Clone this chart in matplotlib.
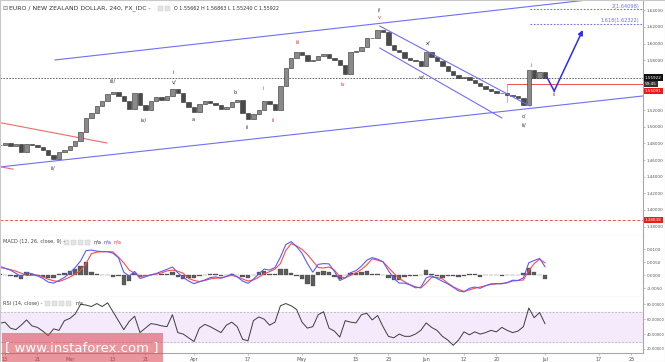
import matplotlib
matplotlib.use("Agg")
import matplotlib.pyplot as plt
import numpy as np
from matplotlib.patches import Rectangle

# ---------------- data (trading-day index, 0 = 13 Feb) ----------------
days = list(range(-1, 101))
closes = [
    1.4781, 1.4805, 1.4769, 1.4793, 1.4697, 1.4793, 1.4781, 1.4757, 1.4721, 1.4661,
    1.4613, 1.4697, 1.4721, 1.4769, 1.4829, 1.4937, 1.5106, 1.5166, 1.5250, 1.5310,
    1.5394, 1.5418, 1.5370, 1.5310, 1.5214, 1.5406, 1.5262, 1.5202, 1.5310, 1.5358,
    1.5322, 1.5370, 1.5454, 1.5406, 1.5298, 1.5238, 1.5178, 1.5274, 1.5310, 1.5286,
    1.5262, 1.5214, 1.5238, 1.5298, 1.5322, 1.5166, 1.5094, 1.5154, 1.5202, 1.5310,
    1.5274, 1.5202, 1.5490, 1.5707, 1.5827, 1.5899, 1.5863, 1.5791, 1.5803, 1.5851,
    1.5875, 1.5827, 1.5803, 1.5743, 1.5635, 1.5899, 1.5911, 1.5959, 1.6067, 1.6067,
    1.6163, 1.6139, 1.5983, 1.5923, 1.5899, 1.5827, 1.5803, 1.5791, 1.5731, 1.5899,
    1.5839, 1.5791, 1.5731, 1.5671, 1.5623, 1.5587, 1.5599, 1.5563, 1.5526, 1.5490,
    1.5454, 1.5430, 1.5406, 1.5406, 1.5382, 1.5370, 1.5346, 1.5262, 1.5683, 1.5587,
    1.5659, 1.5592,
]
macd = [
    .0035, .0027, .0020, .0008, -.0005, .0010, .0006, -.0002, -.0012, -.0026,
    -.0030, -.0020, -.0008, .0008, .0030, .0055, .0095, .0097, .0093, .0091,
    .0091, .0085, .0068, .0012, -.0003, .0015, -.0012, -.0006, .0002, .0007,
    .0015, .0023, .0032, .0010, -.0008, -.0022, -.0032, -.0025, -.0018, -.0009,
    -.0006, -.0011, -.0004, .0005, -.0006, -.0022, -.0031, -.0015, .0005, .0024,
    .0020, .0030, .0070, .0118, .0130, .0110, .0085, .0045, .0012, .0042,
    .0045, .0044, .0015, -.0020, -.0010, .0010, .0018, .0035, .0058, .0068,
    .0062, .0052, .0018, -.0012, -.0030, -.0030, -.0037, -.0048, -.0046, -.0010,
    -.0002, -.0012, -.0023, -.0033, -.0046, -.0060, -.0064, -.0050, -.0045, -.0050,
    -.0040, -.0033, -.0032, -.0033, -.0028, -.0019, -.0020, -.0010, .0048, .0057,
    .0065, .0033,
]
signal = [
    .0030, .0027, .0022, .0016, .0008, -.0001, .0000, .0001, -.0006, -.0015,
    -.0021, -.0024, -.0016, -.0007, .0005, .0018, .0045, .0083, .0089, .0091,
    .0091, .0090, .0070, .0048, .0020, .0008, -.0004, -.0002, .0001, .0005,
    .0009, .0017, .0020, .0016, .0008, -.0012, -.0020, -.0024, -.0020, -.0014,
    -.0011, -.0010, -.0005, .0000, -.0006, -.0014, -.0022, -.0018, -.0007, .0006,
    .0014, .0024, .0045, .0095, .0122, .0113, .0100, .0080, .0055, .0030,
    .0028, .0032, .0020, -.0005, -.0010, .0000, .0010, .0022, .0040, .0063,
    .0058, .0052, .0030, .0008, -.0012, -.0025, -.0036, -.0044, -.0049, -.0030,
    -.0008, -.0008, -.0014, -.0030, -.0044, -.0054, -.0062, -.0056, -.0050, -.0045,
    -.0040, -.0035, -.0033, -.0031, -.0029, -.0022, -.0020, -.0018, .0018, .0045,
    .0062, .0048,
]
rsi = [
    54.5, 56, 48, 46, 52, 59, 51, 49, 44, 38,
    47, 45, 58, 61, 67, 80, 79, 77, 81, 77,
    82, 70, 58, 46, 57, 64, 42, 48, 54, 53,
    51, 50, 66, 42, 40, 35, 30, 48, 53, 50,
    46, 42, 52, 56, 50, 33, 31, 58, 63, 60,
    52, 56, 78, 81, 78, 73, 56, 48, 50, 66,
    70, 48, 44, 36, 58, 56, 55, 66, 68, 59,
    65, 50, 37, 35, 40, 37, 37, 40, 45, 55,
    49, 45, 37, 32, 25, 32, 43, 39, 43, 40,
    42, 45, 43, 49, 45, 42, 44, 50, 75, 62,
    69, 54,
]
tick_days = [0, 6, 12, 20, 26, 35, 45, 55, 65, 71, 78, 85, 91, 100, 110, 116]
tick_labels = ["13", "21", "Mar", "13", "21", "Apr", "17", "May", "15", "23",
               "Jun", "12", "20", "Jul", "17", "25"]
price_ticks = [1.38, 1.40, 1.42, 1.44, 1.46, 1.48, 1.50, 1.52, 1.58, 1.60, 1.62, 1.64]
macd_ticks = [0.01, 0.005, 0.0, -0.005]
rsi_ticks = [80, 60, 40, 20]

# channel / drawing anchors (day, price)
chan_upper = ([9.26, 118.2], [1.5803, 1.6600])
chan_lower = ([-0.93, 118.2], [1.4517, 1.5371])
red_old = ([-0.93, 18.9], [1.5050, 1.4805])
red_short = ([-0.93, 1.5], [1.4520, 1.4490])
desc_upper = ([69.4, 97.2], [1.6211, 1.5250])
desc_lower = ([69.4, 92.0], [1.5947, 1.5106])
proj_path = ([100.4, 101.7], [1.5592, 1.5430])
proj_arrow = ([101.7, 107.0], [1.5430, 1.6163])
fib_levels = [1.64098, 1.62322]
fib_names = ["2(1.64098)", "1.618(1.62322)"]
fib_start = 97.2
last_price = 1.55922
red_level = 1.55091
red_level_start = 93.0
support_level = 1.38838

wave_black = [("iii/", 20.0, 1.5550), ("iv/", 25.7, 1.5082), ("i", 31.1, 1.5647),
              ("v/", 31.3, 1.5538), ("a", 34.8, 1.5082), ("b", 42.6, 1.5418),
              ("ii", 44.8, 1.4986), ("ii/", 8.9, 1.4505), ("i/", 69.3, 1.6404),
              ("w/", 77.2, 1.5599), ("x/", 78.3, 1.6007), ("c/", 96.1, 1.5130),
              ("ii/", 96.1, 1.5022)]
wave_red = [("i", 47.8, 1.5466), ("ii", 49.6, 1.5070), ("iii", 54.3, 1.6019),
            ("iv", 62.6, 1.5514), ("v", 69.3, 1.6308), ("i", 97.4, 1.5731),
            ("ii", 101.7, 1.5394)]

# ---------------- figure ----------------
W, H = 665, 362
fig = plt.figure(figsize=(W / 100, H / 100), dpi=100)
plt.rcParams['font.family'] = ['DejaVu Sans']

def fx(px):
    return px / W

def fy(py):
    return 1 - py / H

right = 643
ax_p = fig.add_axes([0, fy(236), fx(right), 236 / H])
ax_m = fig.add_axes([0, fy(297), fx(right), 61 / H])
ax_r = fig.add_axes([0, fy(353), fx(right), 56 / H])

xlim = (-0.926, 118.15)
GRAY = "#a8a8a8"
TXT = "#555555"
for ax in (ax_p, ax_m, ax_r):
    ax.set_xlim(*xlim)
    ax.set_facecolor("white")
    for s in ("top", "left"):
        ax.spines[s].set_visible(False)
    for s in ("right", "bottom"):
        ax.spines[s].set_color(GRAY)
        ax.spines[s].set_linewidth(0.8)
    ax.yaxis.tick_right()
    ax.tick_params(axis="y", length=1.5, width=0.5, color=GRAY, labelsize=3.0,
                   labelcolor=TXT, pad=1.0)
    ax.tick_params(axis="x", length=0, labelbottom=False)

# ---- price panel ----
d = np.array(days, dtype=float)
c = np.array(closes)
o = np.concatenate([[c[0]], c[:-1]])
up = c >= o
ax_p.bar(d[up], (c - o)[up], bottom=o[up], width=0.8, color="#8a8a8a",
         edgecolor="#2e2e2e", linewidth=0.4, zorder=3)
ax_p.bar(d[~up], (c - o)[~up], bottom=o[~up], width=0.8, color="#4a4a4a",
         edgecolor="#2e2e2e", linewidth=0.4, zorder=3)
ax_p.set_ylim(1.3687, 1.6524)
ax_p.set_yticks(price_ticks)
ax_p.set_yticklabels([f"{v:.5f}" for v in price_ticks])

BLUE = "#6f6ff5"
ax_p.plot(*chan_upper, color=BLUE, lw=0.8, zorder=2)
ax_p.plot(*chan_lower, color=BLUE, lw=0.8, zorder=2)
ax_p.plot(*desc_upper, color=BLUE, lw=0.8, zorder=4)
ax_p.plot(*desc_lower, color=BLUE, lw=0.8, zorder=4)
ax_p.plot(*red_old, color="#f26a6a", lw=0.8, zorder=2)
ax_p.plot(*red_short, color="#f26a6a", lw=0.8, zorder=2)
ax_p.axhline(last_price, color="#555555", lw=0.6, ls=(0, (2, 1.5)), zorder=2)
ax_p.plot([red_level_start, xlim[1]], [red_level, red_level], color="#f05050", lw=0.7, zorder=2)
ax_p.plot([red_level_start, red_level_start], [red_level, 1.5300], color="#f08080", lw=0.5, zorder=2)
ax_p.axhline(support_level, color="#f05050", lw=0.7, ls=(0, (3, 2)), zorder=2)
for lvl, name in zip(fib_levels, fib_names):
    ax_p.plot([fib_start, xlim[1]], [lvl, lvl], color=BLUE, lw=0.8, ls=(0, (1.5, 1.5)), zorder=2)
    ax_p.text(117.5, lvl + 0.0012, name, color=BLUE, fontsize=3.6, ha="right", va="bottom")
ax_p.plot(*proj_path, color="#2b2bff", lw=1.1, zorder=5)
ax_p.annotate("", xy=(proj_arrow[0][1], proj_arrow[1][1]),
              xytext=(proj_arrow[0][0], proj_arrow[1][0]),
              arrowprops=dict(arrowstyle="-|>", color="#2b2bff", lw=1.1,
                              mutation_scale=7, shrinkA=0, shrinkB=0), zorder=5)
for t, x, y in wave_black:
    ax_p.text(x, y, t, fontsize=3.6, color="#333333", ha="center", va="center", zorder=6)
for t, x, y in wave_red:
    ax_p.text(x, y, t, fontsize=3.6, color="#e03030", ha="center", va="center", zorder=6)

# price labels on the axis
trans = ax_p.get_yaxis_transform()
def axis_box(y, text, bg, fc="white", x=1.003):
    ax_p.text(x, y, text, transform=trans, fontsize=3.0, color=fc, ha="left", va="center",
              bbox=dict(boxstyle="square,pad=0.25", fc=bg, ec="none"), clip_on=False, zorder=10)
axis_box(last_price, "1.55922", "#111111")
axis_box(1.5514, "59:45", "#333333")
axis_box(1.5430, "1.55091", "#f01818")
axis_box(support_level, "1.38838", "#f01818")

# titles
fig.text(fx(2), fy(8), "\u229f", fontsize=4.5, color="#777777", va="center")
fig.text(fx(9), fy(8), "EURO / NEW ZEALAND DOLLAR, 240, FX_IDC -", fontsize=4.4,
         color="#333333", va="center")
for bx in (158, 165):
    fig.add_artist(Rectangle((fx(bx), fy(11)), 5 / W, 5 / H, fc="#e4e4e4", ec="#c8c8c8", lw=0.3))
fig.text(fx(174), fy(8), "O 1.55662 H 1.56863 L 1.55240 C 1.55922", fontsize=3.5,
         color="#333333", va="center")

# ---- MACD panel ----
mc = np.array(macd)
sg = np.array(signal)
ax_m.bar(d, mc - sg, width=0.8, color="#5c5c5c", edgecolor="#3a3a3a", linewidth=0.2, zorder=2)
ax_m.plot(d, sg, color="#ff4a4a", lw=0.8, zorder=3)
ax_m.plot(d, mc, color="#5a5aff", lw=0.8, zorder=4)
ax_m.set_ylim(-0.00835, 0.01512)
ax_m.set_yticks(macd_ticks)
ax_m.set_yticklabels([f"{v:.4f}" for v in macd_ticks])
fig.text(fx(3), fy(242), "MACD (12, 26, close, 9) -", fontsize=3.6, color="#444444", va="center")
for bx in (64, 71, 78, 85):
    fig.add_artist(Rectangle((fx(bx), fy(244.5)), 5 / W, 5 / H, fc="#e4e4e4", ec="#c8c8c8", lw=0.3))
fig.text(fx(94), fy(242), "n/a", fontsize=3.6, color="#333333", va="center")
fig.text(fx(104), fy(242), "n/a", fontsize=3.6, color="#4040ff", va="center")
fig.text(fx(114), fy(242), "n/a", fontsize=3.6, color="#ff3030", va="center")

# ---- RSI panel ----
ax_r.axhspan(30, 70, color="#f5eafc", zorder=0)
ax_r.axhline(70, color="#b0b0b0", lw=0.5, ls=(0, (3, 2)), zorder=1)
ax_r.axhline(30, color="#b0b0b0", lw=0.5, ls=(0, (3, 2)), zorder=1)
ax_r.plot(d, rsi, color="#3c3c3c", lw=0.7, zorder=3)
ax_r.set_ylim(14.6, 89.8)
ax_r.set_yticks(rsi_ticks)
ax_r.set_yticklabels([f"{v:.5f}" for v in rsi_ticks])
ax_r.tick_params(axis="y", labelsize=2.7)
ax_r.set_xticks(tick_days)
ax_r.set_xticklabels(tick_labels)
ax_r.tick_params(axis="x", length=1.5, width=0.5, color=GRAY, labelbottom=True,
                 labelsize=3.5, labelcolor=TXT, pad=1.5)
fig.text(fx(3), fy(303), "RSI (14, close) -", fontsize=3.6, color="#444444", va="center")
for bx in (45, 52, 59, 66):
    fig.add_artist(Rectangle((fx(bx), fy(305.5)), 5 / W, 5 / H, fc="#e4e4e4", ec="#c8c8c8", lw=0.3))
fig.text(fx(76), fy(303), "n/a", fontsize=3.6, color="#333333", va="center")

# watermark
fig.add_artist(Rectangle((fx(2), 0), 161 / W, 29 / H, fc=(0.86, 0.25, 0.30, 0.55), ec="none",
                         zorder=20))
fig.text(fx(82), fy(348), "[ www.instaforex.com ]", fontsize=9.5, color="white",
         ha="center", va="center", zorder=21)

# outer border
fig.add_artist(Rectangle((0, 0), 1, 1, fill=False, ec="#c8c8c8", lw=0.8, zorder=30))

fig.savefig("out.png", dpi=100)
